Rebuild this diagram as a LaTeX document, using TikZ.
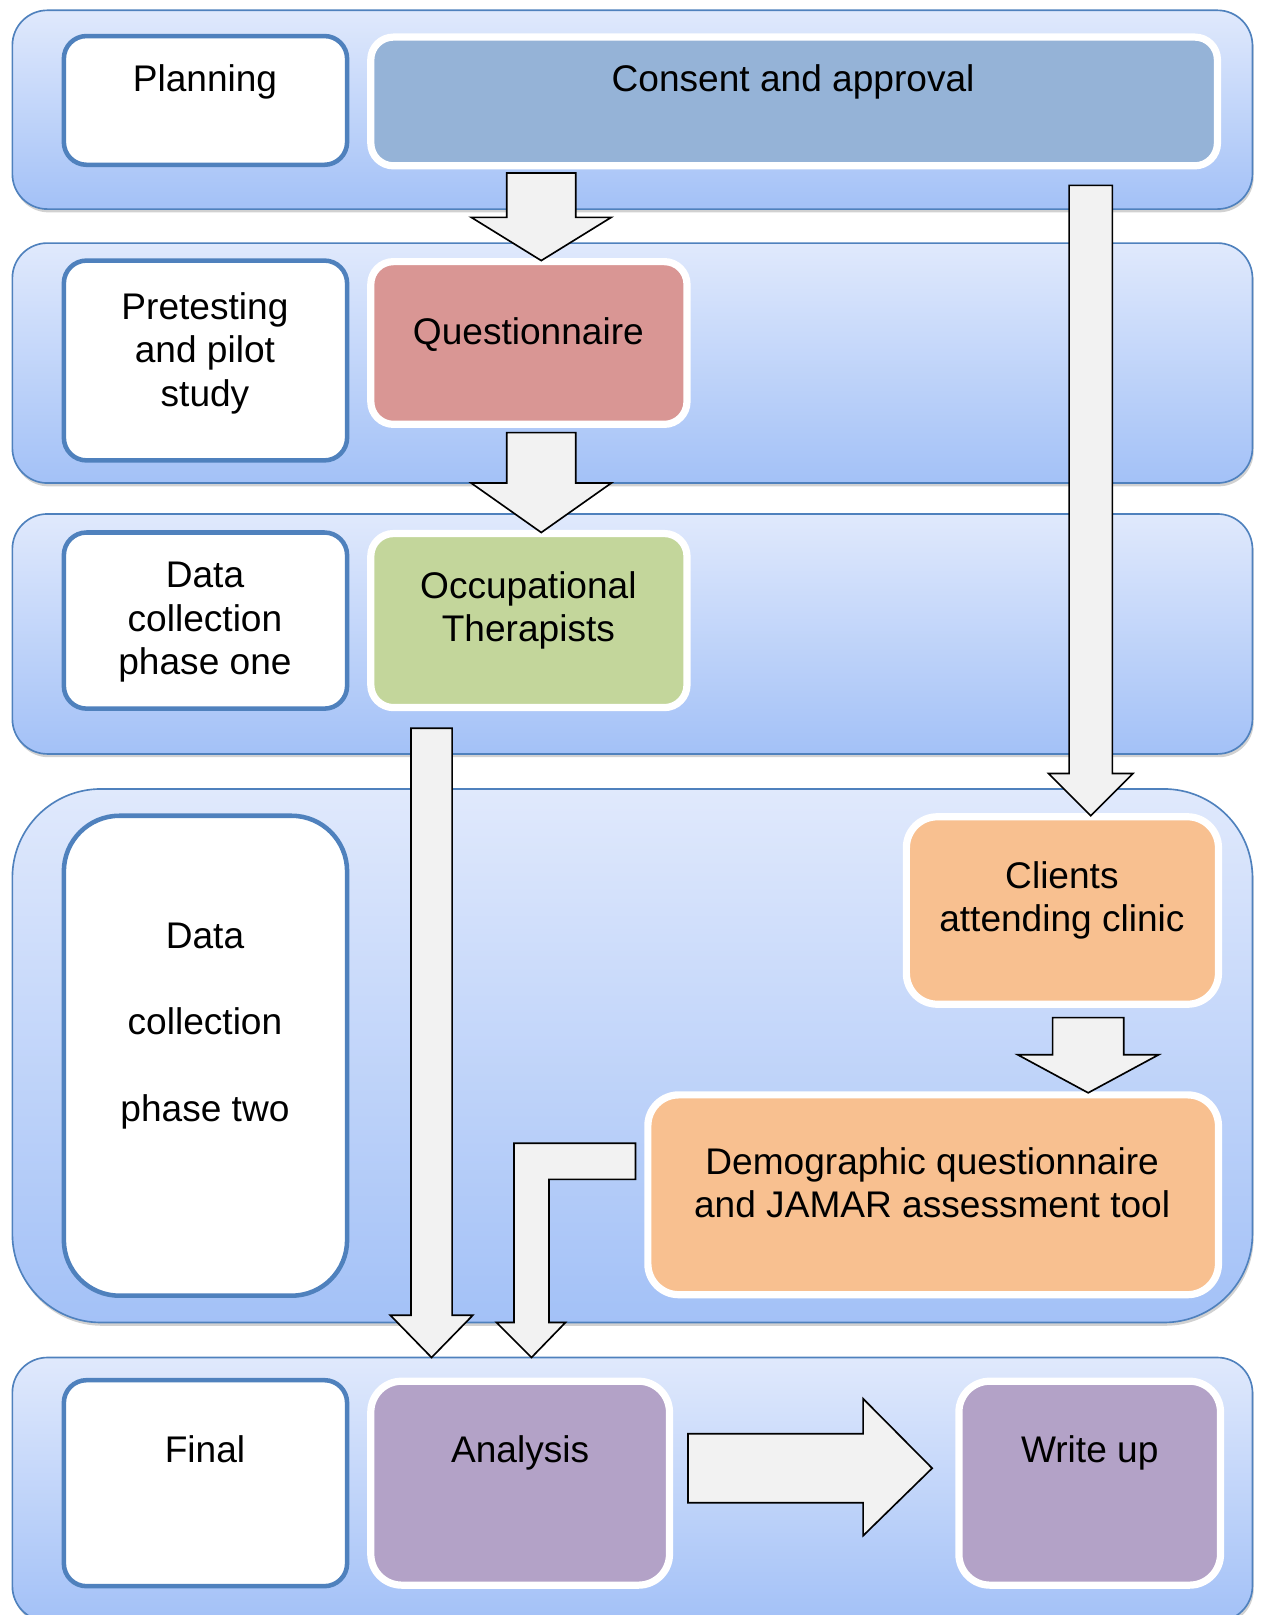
\documentclass[tikz,border=0pt]{standalone}
\usepackage{fontspec}
\setmainfont{Liberation Sans}
\usetikzlibrary{fit,shadows}
\definecolor{bandtop}{RGB}{224,233,252}
\definecolor{bandbot}{RGB}{163,193,247}
\definecolor{bandline}{RGB}{79,129,189}
\definecolor{consentc}{RGB}{149,179,215}
\definecolor{questc}{RGB}{217,150,148}
\definecolor{otc}{RGB}{195,214,155}
\definecolor{clientc}{RGB}{248,192,144}
\definecolor{analc}{RGB}{179,162,199}
\definecolor{arrowc}{RGB}{242,242,242}
\tikzset{
 band/.style={draw=bandline, line width=0.8pt, top color=bandtop, bottom color=bandbot, rounded corners=17pt, inner sep=0,
   drop shadow={shadow xshift=0.6pt, shadow yshift=-1.6pt, opacity=0.3, fill=black!60}},
 wbox/.style={draw=bandline, line width=2.2pt, fill=white, rounded corners=11pt, inner sep=0},
 cbox/.style={draw=white, line width=3.5pt, rounded corners=11pt, inner sep=0,
   drop shadow={shadow xshift=0.6pt, shadow yshift=-1.2pt, opacity=0.25}},
 lbl/.style={font=\fontsize{18}{21}\selectfont, align=center, inner sep=0},
 barrow/.style={draw=black, line width=0.8pt, fill=arrowc, line join=miter},
}
\newcommand\bdarrow[6]{%
 \draw[barrow] ({#1-#2},#4) -- ({#1+#2},#4) -- ({#1+#2},#5) -- ({#1+#3},#5) -- (#1,#6)
   -- ({#1-#3},#5) -- ({#1-#2},#5) -- cycle;}
\begin{document}
\begin{tikzpicture}[x=0.5pt,y=-0.5pt]
\useasboundingbox (0,0) rectangle (1224,1568);
% bands
\node[band, fit={(12,10)(1216,203)}] (b1) {};
\node[band, fit={(12,236)(1216,469)}] (b2) {};
\node[band, fit={(12,499)(1216,732)}] (b3) {};
\node[band, rounded corners=43pt, fit={(12,766)(1216,1284)}] (b4) {};
\node[band, fit={(12,1318)(1216,1574)}] (b5) {};
% left white boxes
\node[wbox, fit={(62,35)(337,160)}] (plan) {};
\node[wbox, fit={(62,253)(337,447)}] (pre) {};
\node[wbox, fit={(62,517)(337,688)}] (d1) {};
\node[wbox, rounded corners=27pt, fit={(62,792)(337,1258)}] (d2) {};
\node[wbox, fit={(62,1340)(337,1540)}] (fin) {};
% coloured boxes
\node[cbox, fill=consentc, fit={(360,36)(1182,161)}] (cons) {};
\node[cbox, fill=questc, fit={(360,254)(667,412)}] (quest) {};
\node[cbox, fill=otc, fit={(360,518)(667,687)}] (ot) {};
\node[cbox, fill=clientc, rounded corners=15pt, fit={(880,793)(1183,975)}] (cli) {};
\node[cbox, fill=clientc, rounded corners=15pt, fit={(629,1063)(1183,1257)}] (dem) {};
\node[cbox, fill=analc, rounded corners=15pt, fit={(360,1341)(650,1539)}] (ana) {};
\node[cbox, fill=analc, rounded corners=15pt, fit={(931,1341)(1185,1539)}] (wri) {};
% labels
\node[lbl] (plan-t) at (199,80) {Planning};
\node[lbl] (cons-t) at (770,80) {Consent and approval};
\node[lbl] (pre-t) at (199,343) {Pretesting\\and pilot\\study};
\node[lbl] (quest-t) at (513,325) {Questionnaire};
\node[lbl] (d1-t) at (199,604) {Data\\collection\\phase one};
\node[lbl] (ot-t) at (513,593) {Occupational\\Therapists};
\node[lbl] (d2-t) at (199,996) {Data\\[21pt]collection\\[21pt]phase two};
\node[lbl] (cli-t) at (1031,874) {Clients\\attending clinic};
\node[lbl] (dem-t) at (905,1148) {Demographic questionnaire\\and JAMAR assessment tool};
\node[lbl] (fin-t) at (199,1407) {Final};
\node[lbl] (ana-t) at (505,1411) {Analysis};
\node[lbl] (wri-t) at (1058,1411) {Write up};
% block arrows
\bdarrow{525.5}{33.5}{68}{168}{211}{253}
\bdarrow{525.5}{33.5}{68}{420}{469}{517}
\bdarrow{1059}{21}{41}{180}{751}{792}
\bdarrow{1056.5}{34.5}{68.5}{988}{1024}{1061}
\bdarrow{419}{20}{40}{707}{1277}{1318}
\draw[barrow] (499,1110) -- (617,1110) -- (617,1145) -- (533,1145) -- (533,1284) -- (549,1284)
  -- (516,1318) -- (482,1284) -- (499,1284) -- cycle;
\draw[barrow] (668,1392) -- (838,1392) -- (838,1358) -- (905,1425.5) -- (838,1491) -- (838,1459)
  -- (668,1459) -- cycle;
\end{tikzpicture}
\end{document}
